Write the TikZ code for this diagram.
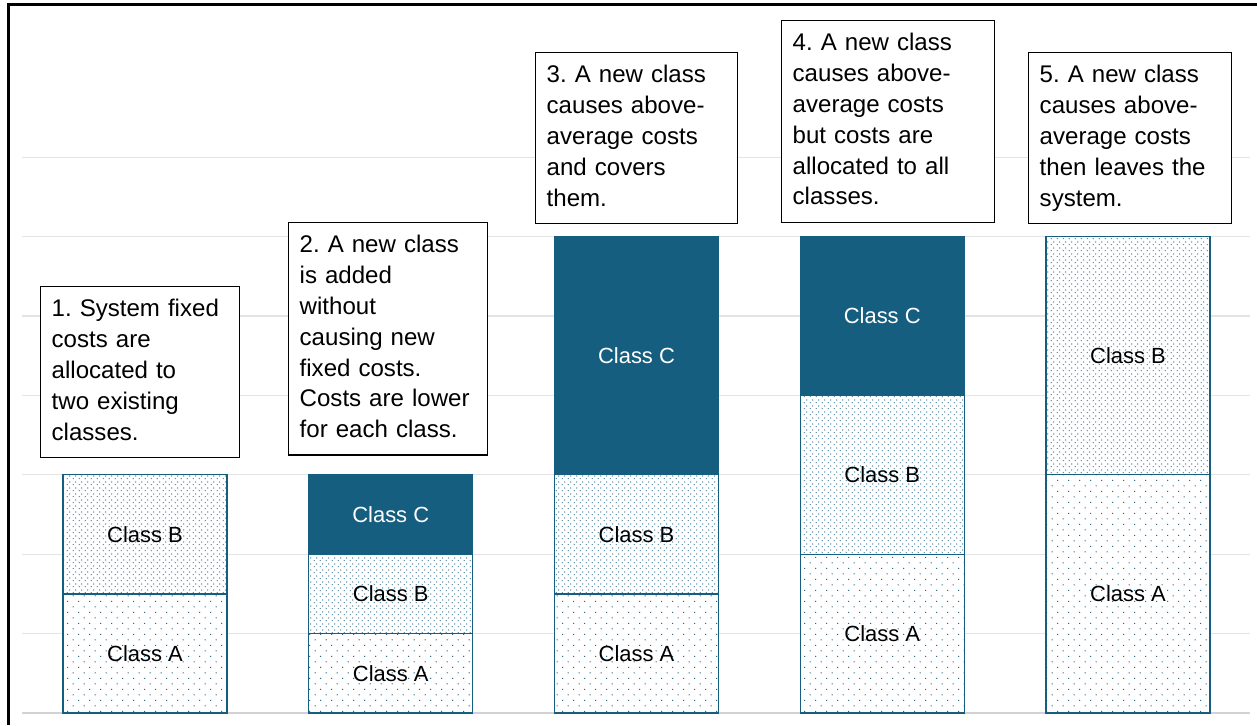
\documentclass[tikz,border=0pt]{standalone}
\usepackage{fontspec}
\setmainfont{Liberation Sans}
\usetikzlibrary{patterns}
\definecolor{azulbarra}{RGB}{22, 94, 127}
\definecolor{rejillagris}{RGB}{228, 228, 228}
\definecolor{basegris}{RGB}{210, 210, 210}
\colorlet{azul}{azulbarra}
% staggered dot fills, sparse and dense
\pgfdeclarepatternformonly{puntosA}{\pgfpointorigin}{\pgfqpoint{6.26pt}{6.5pt}}{\pgfqpoint{6.26pt}{6.5pt}}{%
  \pgfpathcircle{\pgfqpoint{1.5pt}{1.6pt}}{0.4pt}%
  \pgfpathcircle{\pgfqpoint{4.63pt}{4.85pt}}{0.4pt}%
  \pgfusepath{fill}}
\pgfdeclarepatternformonly{puntosB}{\pgfpointorigin}{\pgfqpoint{3.13pt}{3.25pt}}{\pgfqpoint{3.13pt}{3.25pt}}{%
  \pgfpathcircle{\pgfqpoint{0.75pt}{0.8pt}}{0.36pt}%
  \pgfpathcircle{\pgfqpoint{2.32pt}{2.42pt}}{0.36pt}%
  \pgfusepath{fill}}
\tikzset{
  nota/.style={draw=black,line width=0.8pt,fill=white,anchor=north west,align=left,
               font=\fontsize{13.7pt}{17.6pt}\selectfont\frenchspacing,inner xsep=0.22cm,inner ysep=0.16cm,
               execute at begin node=\strut,execute at end node=\strut},
  segA/.style={draw=azul,line width=0.7pt,preaction={fill=white},pattern=puntosA,pattern color=azul},
  segB/.style={draw=azul,line width=0.7pt,preaction={fill=white},pattern=puntosB,pattern color=azul},
  segC/.style={draw=azul,line width=0.7pt,fill=azul},
  etiq/.style={font=\fontsize{12.5pt}{15pt}\selectfont,inner sep=1pt},
  rejilla/.style={rejillagris,line width=0.6pt},
  base/.style={basegris,line width=1.4pt},
  marco/.style={black,line width=1.4pt},
}

\begin{document}
\begin{tikzpicture}[x=0.02cm,y=-0.02cm]
  \useasboundingbox[fill=white] (0,0) rectangle (1257,725);
  % grid, one line per step of 79.4
  \foreach \v in {1,...,7}
    \draw[rejilla] (22,{713-79.4*\v}) -- (1250,{713-79.4*\v});
  \draw[base] (22,713) -- (1250,713);
  % bars: column/from/to/style/class/text colour
  \foreach \c/\a/\b/\s/\k/\t in {1/0/1.5/segA/A/black, 1/1.5/3/segB/B/black,
      2/0/1/segA/A/black, 2/1/2/segB/B/black, 2/2/3/segC/C/white,
      3/0/1.5/segA/A/black, 3/1.5/3/segB/B/black, 3/3/6/segC/C/white,
      4/0/2/segA/A/black, 4/2/4/segB/B/black, 4/4/6/segC/C/white,
      5/0/3/segA/A/black, 5/3/6/segB/B/black} {
    \draw[\s] ({63+245.75*(\c-1)},{713-79.4*\a}) rectangle ({227+245.75*(\c-1)},{713-79.4*\b});
    \node[etiq,text=\t] (b\c\k) at ({145+245.75*(\c-1)},{713-79.4*(\a+\b)/2}) {Class \k};
  }
  % notes above the bars
  \node[nota,text width=3.54cm] (n1) at (40,286) {1. System fixed\\costs are\\allocated to\\two existing\\classes.};
  \node[nota,text width=3.54cm] (n2) at (288,222) {2. A new class\\is added\\without\\causing new\\fixed costs.\\Costs are lower\\for each class.};
  \node[nota,text width=3.6cm] (n3) at (535,52) {3. A new class\\causes above-\\average costs\\and covers\\them.};
  \node[nota,text width=3.82cm] (n4) at (781,20) {4. A new class\\causes above-\\average costs\\but costs are\\allocated to all\\classes.};
  \node[nota,text width=3.62cm] (n5) at (1028,52) {5. A new class\\causes above-\\average costs\\then leaves the\\system.};
  % frame
  \draw[marco] (8.5,725) -- (8.5,4.5) -- (1257,4.5);
\end{tikzpicture}
\end{document}
